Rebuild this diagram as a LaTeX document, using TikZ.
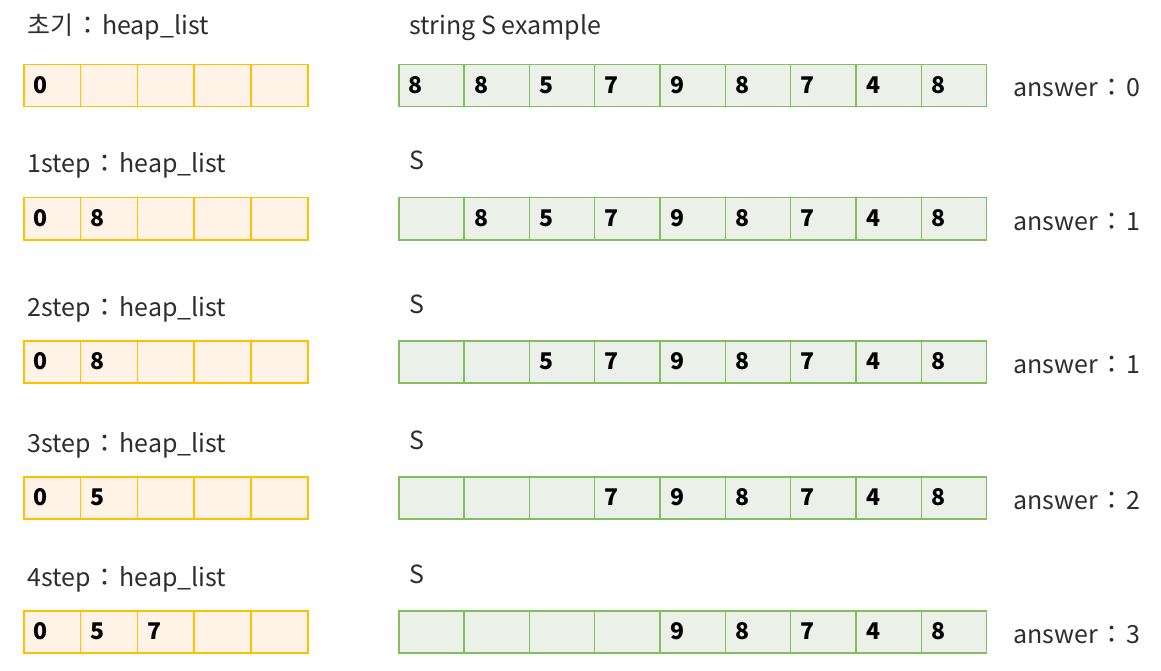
\documentclass[tikz,border=0pt]{standalone}
\usepackage{fontspec}
\setmainfont{Noto Sans CJK KR}
\definecolor{hfill}{RGB}{255,242,230}
\definecolor{hdraw}{RGB}{255,192,0}
\definecolor{gfill}{RGB}{235,241,233}
\definecolor{gdraw}{RGB}{130,190,95}
\definecolor{lbltext}{RGB}{45,45,45}
\newcommand{\sepcolon}{\hspace{2pt}：\hspace{2pt}}
\begin{document}
\begin{tikzpicture}[x=1pt,y=-1pt,
  cell/.style={line width=1.5pt, minimum height=42pt, anchor=north west,
    inner xsep=10pt, inner ysep=0pt, align=left, text height=18pt, text depth=2pt,
    font=\fontsize{23}{23}\selectfont\bfseries},
  hcell/.style={cell, draw=hdraw, fill=hfill, text width=36.8pt},
  gcell/.style={cell, draw=gdraw, fill=gfill, text width=45.3pt},
  lbl/.style={anchor=base west, inner sep=0pt, text=lbltext,
    font=\fontsize{25}{25}\selectfont}]
\useasboundingbox (0,0) rectangle (1161,671);
\foreach \r/\y/\hb/\sb/\lab/\slab/\hv/\gv/\ans in {
  0/64/35/35/초기/string S example/{0,{},{},{},{}}/{8,8,5,7,9,8,7,4,8}/0,
  1/197/173/170/1step/S/{0,8,{},{},{}}/{{},8,5,7,9,8,7,4,8}/1,
  2/340/316/313/2step/S/{0,8,{},{},{}}/{{},{},5,7,9,8,7,4,8}/1,
  3/476/452/449/3step/S/{0,5,{},{},{}}/{{},{},{},7,9,8,7,4,8}/2,
  4/610/586/583/4step/S/{0,5,7,{},{}}/{{},{},{},{},9,8,7,4,8}/3}{
  \node[lbl] (hl\r) at (27,\hb) {\lab\sepcolon heap\_list};
  \node[lbl] (sl\r) at (409,\sb) {\slab};
  \node[lbl] (al\r) at (1013,\y+33) {answer\sepcolon\ans};
  \foreach \v [count=\i from 0] in \hv {
    \node[hcell] (h\r-\i) at (23+\i*56.8,\y) {\v};
  }
  \foreach \v [count=\i from 0] in \gv {
    \node[gcell] (g\r-\i) at (398+\i*65.33,\y) {\v};
  }
}
\end{tikzpicture}
\end{document}
